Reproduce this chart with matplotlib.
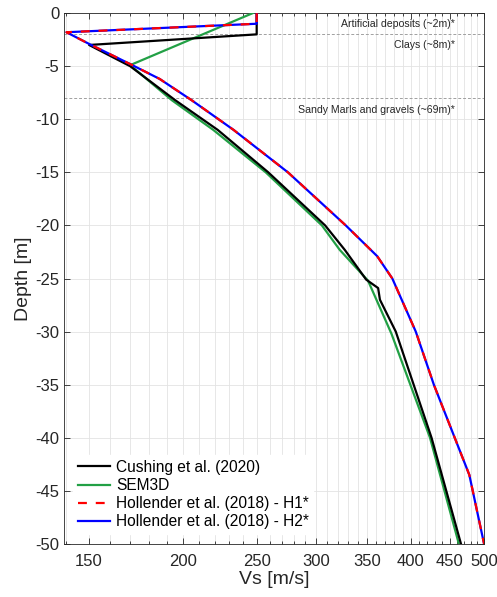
import matplotlib
matplotlib.use("Agg")
import matplotlib.pyplot as plt
import numpy as np
from matplotlib.ticker import FixedLocator, FixedFormatter, NullFormatter

plt.rcParams['font.family'] = ['Liberation Sans', 'DejaVu Sans']
plt.rcParams['axes.unicode_minus'] = False

# Vs profiles (m/s) against depth (m)
cushing_vs = [250, 250, 150, 170, 195, 222, 259, 308, 327, 349, 362, 364, 382, 426, 466]
cushing_z = [0, -2, -3, -5, -8.2, -11, -15, -20, -22.3, -25.1, -25.9, -27, -30, -40, -50]

sem3d_vs = [247, 170, 193, 219, 257, 305, 322, 351, 377, 424, 463]
sem3d_z = [0, -4.9, -8.2, -11, -15, -20, -22.3, -25.2, -30.2, -40, -50]

hollender_vs = [250, 250, 140, 150, 170, 186, 205, 233, 275, 328, 361, 378, 406, 429, 478, 500]
hollender_z = [0, -1, -1.8, -2.9, -4.8, -6.2, -8.2, -11, -15, -20, -22.9, -25, -30, -35, -43.5, -50]

layer_tops = [-2, -8]
layer_names = ['Artificial deposits (~2m)*', 'Clays (~8m)*', 'Sandy Marls and gravels (~69m)*']
layer_label_z = [-1.0, -3.0, -9.1]

xticks = [150, 200, 250, 300, 350, 400, 450, 500]
yticks = list(range(0, -55, -5))

fig = plt.figure(figsize=(4.97, 5.97), dpi=100)
ax = fig.add_axes([0.129, 0.089, 0.845, 0.889])

ax.set_xscale('log')
ax.set_xlim(139, 500)
ax.set_ylim(-50, 0)

ax.xaxis.set_major_locator(FixedLocator(xticks))
ax.xaxis.set_minor_locator(FixedLocator(np.arange(140, 501, 10)))
ax.xaxis.set_major_formatter(FixedFormatter([str(t) for t in xticks]))
ax.xaxis.set_minor_formatter(NullFormatter())
ax.set_yticks(yticks)
ax.set_yticklabels([str(t) for t in yticks])

ax.grid(True, which='both', axis='x', color='#e3e3e3', lw=0.6)
ax.grid(True, which='major', axis='y', color='#e3e3e3', lw=0.6)
ax.set_axisbelow(True)

for z in layer_tops:
    ax.axhline(z, color='#a0a0a0', lw=0.7, ls=(0, (3, 2)), zorder=1)
for name, z in zip(layer_names, layer_label_z):
    ax.text(457, z, name, ha='right', va='center', fontsize=7.6, color='#262626')

l1, = ax.plot(cushing_vs, cushing_z, color='black', lw=1.6, zorder=4, label='Cushing et al. (2020)')
l2, = ax.plot(sem3d_vs, sem3d_z, color='#22a045', lw=1.6, zorder=3, label='SEM3D')
l4, = ax.plot(hollender_vs, hollender_z, color='#0000ff', lw=1.6, zorder=5, label='Hollender et al. (2018) - H2*')
l3, = ax.plot(hollender_vs, hollender_z, color='#ff0000', lw=1.6, ls=(0, (4, 4)), zorder=6,
              label='Hollender et al. (2018) - H1*')

leg = ax.legend(handles=[l1, l2, l3, l4], loc='lower left', bbox_to_anchor=(0.01, 0.01),
                frameon=True, fontsize=11.2, handlelength=2.1, handletextpad=0.35,
                labelspacing=0.2, borderaxespad=0.3, borderpad=0.3)
leg.get_frame().set_edgecolor('white')
leg.get_frame().set_alpha(1)
leg.set_zorder(7)

for s in ax.spines.values():
    s.set_color('#262626')
    s.set_linewidth(0.6)
ax.tick_params(which='both', direction='in', top=True, right=True, colors='#262626',
               labelsize=12, width=0.6)
ax.tick_params(which='major', length=4)
ax.tick_params(which='minor', length=2.5)
ax.tick_params(axis='x', pad=7)

ax.set_xlabel('Vs [m/s]', fontsize=14, color='#262626', labelpad=2)
ax.set_ylabel('Depth [m]', fontsize=14, color='#262626', labelpad=2)

fig.savefig('out.png', dpi=100)
